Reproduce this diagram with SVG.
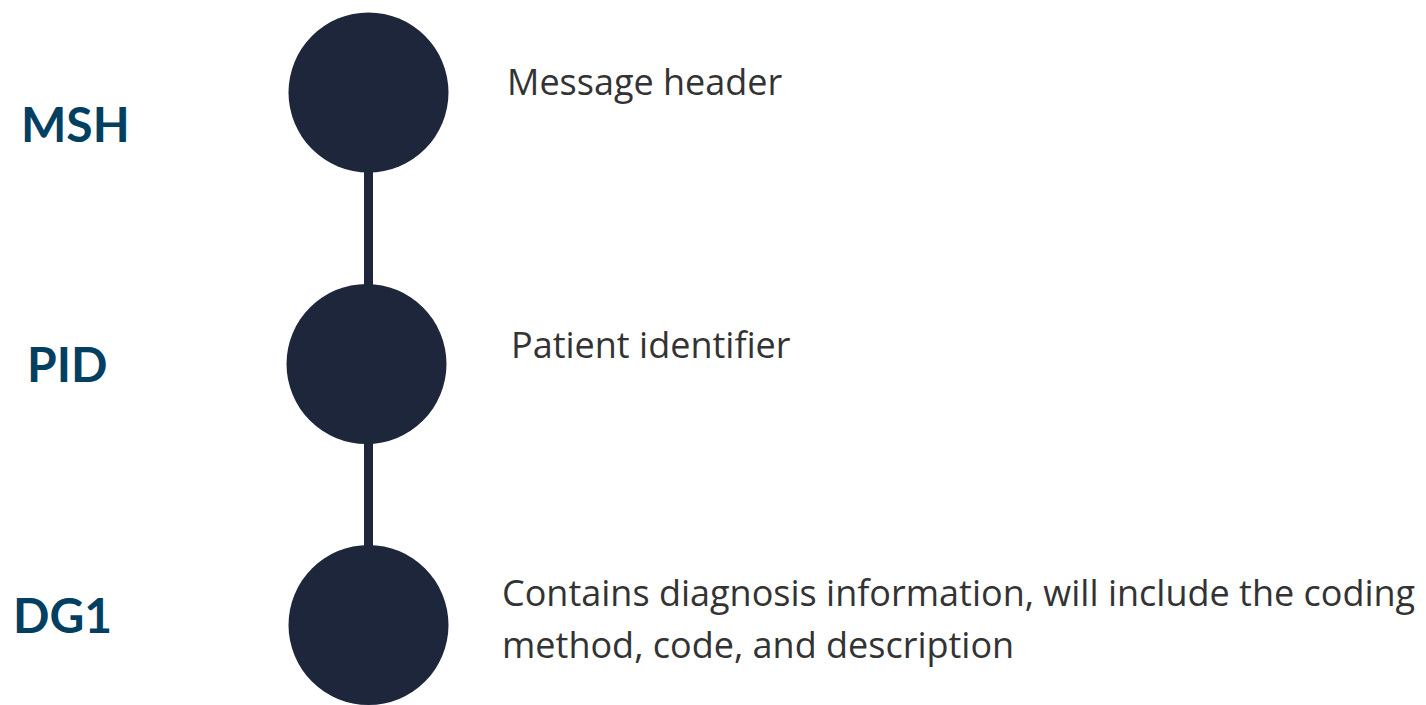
<svg xmlns="http://www.w3.org/2000/svg" width="1426" height="705" viewBox="0 0 1426 705">
<style>
.lbl{font-family:Lato,"Liberation Sans",sans-serif;font-weight:700;font-size:48px;fill:#023f61}
.desc{font-family:"Open Sans","Liberation Sans",sans-serif;font-size:36px;fill:#333333}
.dot{fill:#1d263b}
.conn{stroke:#1d263b;stroke-width:9;fill:none}
</style>
<rect width="1426" height="705" fill="#ffffff"/>
<g id="connectors">
<line class="conn" x1="368.5" y1="160" x2="368.5" y2="560"/>
</g>
<g id="node-msh">
<circle class="dot" cx="368.5" cy="92.5" r="80"/>
<text class="lbl" x="21" y="142">MSH</text>
<text class="desc" x="507" y="95">Message header</text>
</g>
<g id="node-pid">
<circle class="dot" cx="366.5" cy="364" r="80"/>
<text class="lbl" x="27" y="382">PID</text>
<text class="desc" x="511" y="358">Patient identifier</text>
</g>
<g id="node-dg1">
<circle class="dot" cx="368.5" cy="625" r="80"/>
<text class="lbl" x="13" y="633">DG1</text>
<text class="desc" x="502" y="606">Contains diagnosis information, will include the coding</text>
<text class="desc" x="502" y="658">method, code, and description</text>
</g>
</svg>
